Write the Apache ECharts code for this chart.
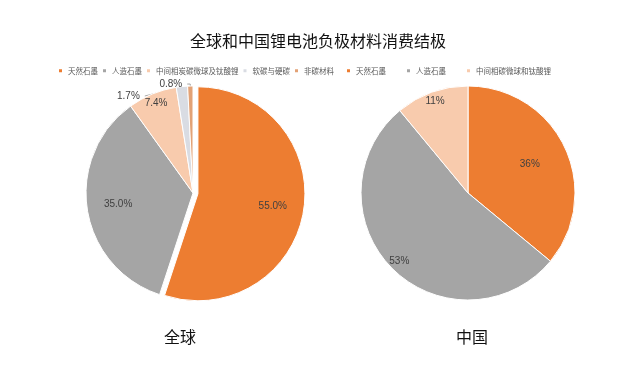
<!DOCTYPE html>
<html><head><meta charset="utf-8">
<script src="https://cdn.jsdelivr.net/npm/echarts@6/dist/echarts.min.js"></script>
<style>html,body{margin:0;padding:0;background:#fff}#c{width:636px;height:369px}</style>
</head><body><div id="c"></div>
<script>
const titleText = '全球和中国锂电池负极材料消费结极';
const globalNames = ['天然石墨', '人造石墨', '中间相炭碳微球及钛酸锂', '软碳与硬碳', '非碳材料'];
const globalValues = [55.0, 35.0, 7.4, 1.7, 0.8];
const chinaNames = ['天然石墨', '人造石墨', '中间相碳微球和钛酸锂'];
const chinaValues = [36, 53, 11];
const globalColors = ['#ED7D31', '#A5A5A5', '#F8CBAD', '#D9DCE3', '#E3A276'];
const chinaColors = ['#ED7D31', '#A5A5A5', '#F8CBAD'];
const globalLabelRing = ['A', 'A', 'B', 'O', 'O'];
const chinaLabelRing = ['A', 'B', 'B'];

const FONT = '"Noto Sans CJK SC", "Noto Sans", sans-serif';
const R = 107;

function mainData(names, values, colors, ring, decimals, explodeFirst) {
  return names.map((n, i) => ({
    name: n, value: values[i],
    selected: explodeFirst && i === 0,
    itemStyle: { color: colors[i] },
    label: ring[i] === 'O' ? { show: true, position: 'outside', formatter: v => v.value.toFixed(decimals) + '%' } : { show: false },
    labelLine: { show: ring[i] === 'O' }
  }));
}
function ghostData(names, values, ring, which, decimals, explodeFirst) {
  return names.map((n, i) => ({
    name: n, value: values[i],
    selected: explodeFirst && i === 0,
    label: { show: ring[i] === which, formatter: v => v.value.toFixed(decimals) + '%' }
  }));
}
function ghost(center, radius, data) {
  return {
    type: 'pie', center, radius, silent: true, selectedMode: 'single', selectedOffset: 5,
    itemStyle: { color: 'rgba(0,0,0,0)', borderWidth: 0 },
    label: { position: 'inside', fontSize: 10, color: '#404040', fontFamily: 'Arial, "Liberation Sans", sans-serif' },
    labelLine: { show: false }, emphasis: { disabled: true }, animation: false,
    data
  };
}

const chart = echarts.init(document.getElementById('c'), null, { renderer: 'canvas' });
chart.setOption({
  backgroundColor: '#fff',
  animation: false,
  title: [
    { text: titleText, left: 'center', top: 28, textStyle: { fontSize: 16, fontWeight: 'normal', color: '#111', fontFamily: FONT } },
    { text: '全球', left: 175, top: 324, textAlign: 'center', textStyle: { fontSize: 16, fontWeight: 'normal', color: '#111', fontFamily: FONT } },
    { text: '中国', left: 467, top: 324, textAlign: 'center', textStyle: { fontSize: 16, fontWeight: 'normal', color: '#111', fontFamily: FONT } }
  ],
  legend: [
    { data: globalNames, left: 52, top: 62, icon: 'rect', itemWidth: 5, itemHeight: 5, itemGap: 3, selectedMode: false,
      textStyle: { fontSize: 7.5, color: '#595959', fontFamily: FONT } },
    { data: chinaNames, left: 340, top: 62, icon: 'rect', itemWidth: 5, itemHeight: 5, itemGap: 19, selectedMode: false,
      textStyle: { fontSize: 7.5, color: '#595959', fontFamily: FONT } }
  ],
  series: [
    { type: 'pie', center: [193, 193], radius: [0, R], startAngle: 90, clockwise: true,
      selectedMode: 'single', selectedOffset: 5, avoidLabelOverlap: true,
      itemStyle: { borderColor: '#fff', borderWidth: 1 },
      label: { fontSize: 10, color: '#404040', fontFamily: 'Arial, "Liberation Sans", sans-serif' },
      labelLine: { length: 2, length2: 3, lineStyle: { color: '#A5A5A5' } },
      emphasis: { disabled: true },
      data: mainData(globalNames, globalValues, globalColors, globalLabelRing, 1, true) },
    ghost([193, 193], [R * 0.36, R], ghostData(globalNames, globalValues, globalLabelRing, 'A', 1, true)),
    ghost([193, 193], [R * 0.76, R], ghostData(globalNames, globalValues, globalLabelRing, 'B', 1, true)),
    { type: 'pie', center: [468, 193], radius: [0, R], startAngle: 90, clockwise: true,
      itemStyle: { borderColor: '#fff', borderWidth: 1 },
      label: { show: false }, labelLine: { show: false },
      emphasis: { disabled: true },
      data: mainData(chinaNames, chinaValues, chinaColors, chinaLabelRing, 0, false) },
    ghost([468, 193], [R * 0.22, R], ghostData(chinaNames, chinaValues, chinaLabelRing, 'A', 0, false)),
    ghost([468, 193], [R * 0.76, R], ghostData(chinaNames, chinaValues, chinaLabelRing, 'B', 0, false))
  ]
});
</script></body></html>
